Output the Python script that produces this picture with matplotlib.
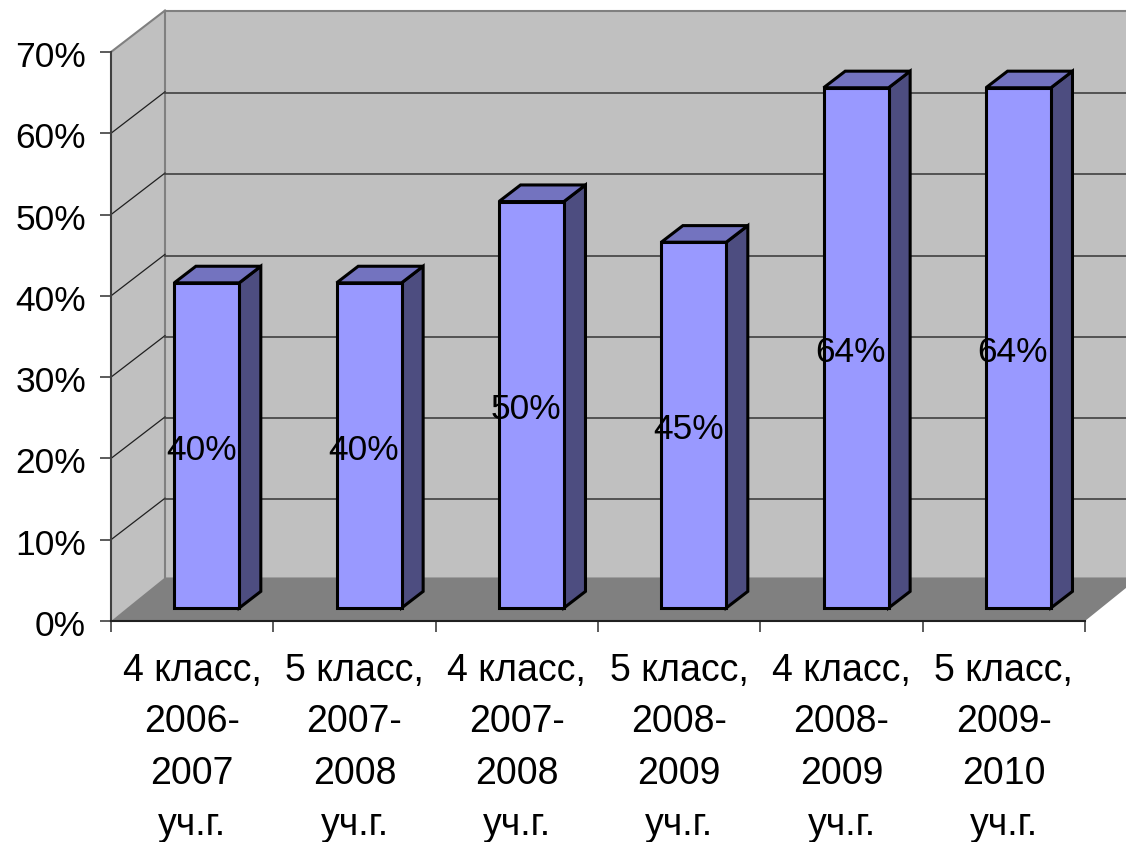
import matplotlib
matplotlib.use("Agg")
import matplotlib.pyplot as plt
from matplotlib.patches import Polygon
from matplotlib.transforms import ScaledTranslation

plt.rcParams['font.family'] = ['Liberation Sans', 'DejaVu Sans']

categories = ["4 класс,\n2006-\n2007\nуч.г.", "5 класс,\n2007-\n2008\nуч.г.",
              "4 класс,\n2007-\n2008\nуч.г.", "5 класс,\n2008-\n2009\nуч.г.",
              "4 класс,\n2008-\n2009\nуч.г.", "5 класс,\n2009-\n2010\nуч.г."]
values = [40, 40, 50, 45, 64, 64]
value_labels = ["40%", "40%", "50%", "45%", "64%", "64%"]
y_ticks = [0, 10, 20, 30, 40, 50, 60, 70]

W, H = 1126, 842
L, R, T, B = 111, 1085, 52, 621
fig = plt.figure(figsize=(W / 100, H / 100), dpi=100, facecolor="white")
ax = fig.add_axes([L / W, 1 - B / H, (R - L) / W, (B - T) / H])
ax.set_xlim(0, 6)
ax.set_ylim(0, 70)
ax.patch.set_visible(False)
for s in ax.spines.values():
    s.set_visible(False)

# depth projection of the pseudo-3D box, in data units
DX = 54 / ((R - L) / 6)
DY = 41.5 / ((B - T) / 70)
def P(x, y, d=0.0):
    return (x + d * DX, y + d * DY)

def poly(pts, **kw):
    p = Polygon(pts, closed=True, clip_on=False, **kw)
    ax.add_patch(p)

wall = "#C0C0C0"; floor = "#808080"; wline = "#808080"
poly([P(0, 0, 1), P(6, 0, 1), P(6, 70, 1), P(0, 70, 1)], fc=wall, ec="none", zorder=1)
poly([P(0, 0), P(0, 0, 1), P(0, 70, 1), P(0, 70)], fc=wall, ec="none", zorder=1)
# the floor's back edge sits a little above the wall's 0 level
poly([P(0, 0), P(0, 0.25, 1), P(6, 0.25, 1), P(6, 0)], fc=floor, ec="none", zorder=2)

# walls' edges
ax.plot(*zip(P(0, 70, 1), P(6, 70, 1)), color=wline, lw=1.5, zorder=2, clip_on=False)
ax.plot(*zip(P(0, 0, 1), P(0, 70, 1)), color=wline, lw=1.5, zorder=2, clip_on=False)
ax.plot(*zip(P(0, 70), P(0, 70, 1)), color=wline, lw=1.5, zorder=2, clip_on=False)
# gridlines
for t in y_ticks[1:-1]:
    ax.plot(*zip(P(0, t), P(0, t, 1)), color="#202020", lw=0.9, zorder=2, clip_on=False)
    ax.plot(*zip(P(0, t - 0.15, 1), P(6, t - 0.15, 1)), color="#404040", lw=1.2, zorder=2, clip_on=False)
ax.plot(*zip(P(0, 0), P(0, 70)), color="#404040", lw=1.5, zorder=3, clip_on=False)
ax.plot(*zip(P(0, 0), P(6, 0)), color="#202020", lw=1.5, zorder=3, clip_on=False)

# bars
face = "#9999FF"; side = "#4D4D80"; top = "#7373BF"
bw = 0.4
d0, d1 = 0.27, 0.67
for i, v in enumerate(values):
    x0 = i + 0.5 - bw / 2
    x1 = i + 0.5 + bw / 2
    kw = dict(ec="black", lw=2.2, joinstyle="miter", zorder=5)
    y0 = 1.6 - d0 * DY
    def Q(x, y, d):
        return P(x, y + y0, d)
    poly([Q(x1, 0, d0), Q(x1, 0, d1), Q(x1, v, d1), Q(x1, v, d0)], fc=side, **kw)
    poly([Q(x0, v, d0), Q(x1, v, d0), Q(x1, v, d1), Q(x0, v, d1)], fc=top, **kw)
    poly([Q(x0, 0, d0), Q(x1, 0, d0), Q(x1, v, d0), Q(x0, v, d0)], fc=face, **kw)
    cx, cy = Q(i + 0.5, v / 2, d0)
    ax.text(cx - 0.035, cy - 0.6, value_labels[i], ha="center", va="center",
            fontsize=25.5, color="black", zorder=6)

# axes ticks
ax.set_yticks(y_ticks)
ax.set_yticklabels([f"{t}%" for t in y_ticks], fontsize=25.5, color="black")
ax.tick_params(axis="y", length=8, width=1.2, color="#404040", pad=10)
shift = ScaledTranslation(0, -2 / 100, fig.dpi_scale_trans)
for lab in ax.get_yticklabels():
    lab.set_transform(lab.get_transform() + shift)
ax.set_xticks(range(7))
ax.set_xticklabels([])
ax.set_xticks([i + 0.5 for i in range(6)], minor=True)
ax.set_xticklabels(categories, minor=True, fontsize=27, color="black", linespacing=1.55)
ax.tick_params(axis="x", which="major", length=8, width=1.2, color="#404040")
ax.tick_params(axis="x", which="minor", length=0, pad=23)

fig.savefig("out.png", dpi=100)
